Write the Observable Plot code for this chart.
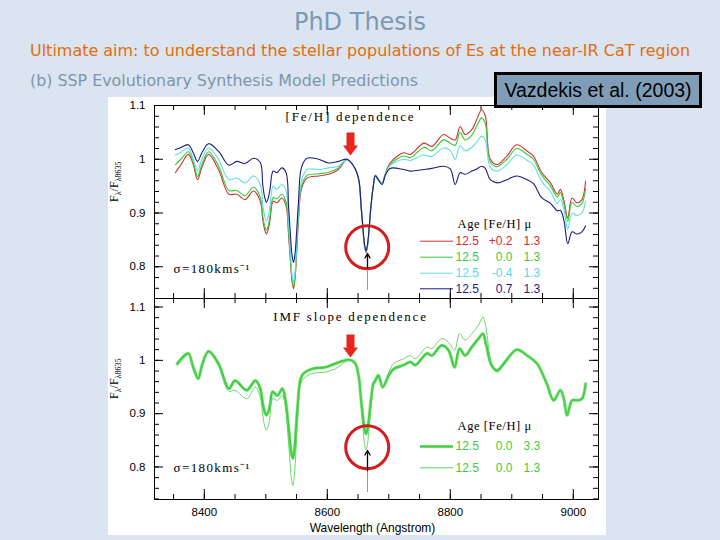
<!DOCTYPE html>
<html><head><meta charset="utf-8">
<script src="https://cdn.jsdelivr.net/npm/d3@7"></script>
<script src="https://cdn.jsdelivr.net/npm/@observablehq/plot@0.6"></script>
<style>
html,body{margin:0;padding:0;background:#dae5f1;}
#slide{position:relative;width:720px;height:540px;overflow:hidden;background:#dae5f1;}
#img{position:absolute;left:108px;top:97px;width:498px;height:438px;background:#fff;}
.panel{position:absolute;left:108px;}
#ref{position:absolute;left:494px;top:72px;width:202px;height:30px;background:#809db7;border:3px solid #000;
 font-family:"Liberation Sans",Arial,sans-serif;font-size:19.5px;line-height:30px;text-align:center;color:#000;white-space:nowrap;}
</style></head>
<body><div id="slide">
<svg id="hdr" width="720" height="97" style="position:absolute;left:0;top:0">
 <text x="360" y="30" text-anchor="middle" font-family="DejaVu Sans" font-size="24" fill="#7d98b3">PhD Thesis</text>
 <text x="30" y="56" textLength="660" lengthAdjust="spacingAndGlyphs" font-family="DejaVu Sans" font-size="16" fill="#e46c0a">Ultimate aim: to understand the stellar populations of Es at the near-IR CaT region</text>
 <text x="30" y="86" textLength="388" lengthAdjust="spacingAndGlyphs" font-family="DejaVu Sans" font-size="16" fill="#8094aa">(b) SSP Evolutionary Synthesis Model Predictions</text>
</svg>
<div id="img"></div>
<div id="p1" class="panel" style="top:97px"></div>
<div id="p2" class="panel" style="top:298px"></div>
<div id="ref">Vazdekis et al. (2003)</div>
</div>
<script>
// ---------------- data ----------------
const topWave = [8353,8362,8374,8382,8389,8396,8407,8423,8440,8453,8466,8480,8491,
 8495,8498,8501,8504,8507,
 8512,8518,8526,8533,
 8537,8540,8542.5,8545,8547.5,8550,8553,
 8558,8567,8586,8602,8618,8632,8643,8651,
 8655,8658,8660.5,8663,8665.5,8668,8671,8675,
 8678,8683,8689,8694,8702,
 8724,8735,8757,8770,8789,8800,8808,8816,8824,8835,8843,8851,8857,8865,8876,8892,8908,8925,8935,8949,8963,8974,8979,8985,8991,8998,9006,9014,9020];
const topFeP02 = [0.975,0.99,1.009,0.99,0.962,0.985,1.009,0.981,0.935,0.935,0.925,0.941,0.922,
 0.888,0.870,0.861,0.870,0.888,
 0.922,0.919,0.928,0.913,
 0.859,0.811,0.774,0.759,0.778,0.822,0.884,
 0.945,0.965,0.969,0.972,0.981,0.999,0.987,0.963,
 0.91,0.869,0.838,0.826,0.839,0.870,0.912,0.952,
 0.97,0.962,0.955,0.972,0.993,
 1.012,1.009,1.030,1.024,1.046,1.039,1.036,1.061,1.046,1.055,1.074,1.092,1.080,1.0,0.990,1.006,1.027,1.015,1.006,0.975,0.956,0.935,0.944,0.922,0.891,0.928,0.919,0.925,0.959];
const topFe00 = [0.99,1.0,1.014,0.995,0.968,0.99,1.014,0.988,0.942,0.942,0.932,0.948,0.929,
 0.895,0.877,0.868,0.877,0.895,
 0.929,0.926,0.935,0.92,
 0.865,0.816,0.778,0.762,0.781,0.827,0.889,
 0.95,0.97,0.973,0.976,0.984,1.0,0.987,0.963,
 0.912,0.871,0.840,0.828,0.841,0.871,0.913,0.952,
 0.97,0.962,0.955,0.971,0.99,
 1.006,1.003,1.022,1.016,1.036,1.03,1.026,1.05,1.036,1.045,1.062,1.077,1.066,0.995,0.986,1.0,1.02,1.009,1.0,0.97,0.95,0.93,0.938,0.916,0.885,0.92,0.912,0.918,0.945];
const topFeM04 = [1.008,1.013,1.021,1.0,0.978,1.0,1.021,1.0,0.962,0.965,0.956,0.969,0.953,
 0.916,0.895,0.885,0.894,0.915,
 0.95,0.944,0.953,0.941,
 0.882,0.829,0.788,0.771,0.790,0.838,0.899,
 0.96,0.981,0.981,0.984,0.987,0.999,0.987,0.963,
 0.912,0.871,0.841,0.829,0.841,0.871,0.913,0.952,
 0.969,0.962,0.954,0.970,0.988,
 1.0,0.998,1.008,1.005,1.021,1.016,1.0,1.025,1.016,1.022,1.032,1.043,1.035,0.985,0.978,0.99,1.008,0.998,0.99,0.958,0.94,0.918,0.925,0.905,0.87,0.9,0.895,0.9,0.922];
const topFeM07 = [1.018,1.022,1.027,1.012,0.996,1.012,1.029,1.015,0.989,0.996,0.992,1.002,0.994,
 0.953,0.930,0.920,0.928,0.946,
 0.978,0.975,0.984,0.975,
 0.912,0.860,0.823,0.808,0.824,0.863,0.918,
 0.985,1.002,1.0,0.993,0.996,1.0,0.987,0.963,
 0.913,0.872,0.842,0.83,0.842,0.872,0.913,0.952,
 0.969,0.962,0.953,0.969,0.983,
 0.981,0.978,0.981,0.983,0.987,0.982,0.953,0.975,0.972,0.978,0.982,0.987,0.983,0.962,0.956,0.962,0.969,0.962,0.955,0.928,0.918,0.904,0.905,0.885,0.843,0.865,0.861,0.865,0.876];

const botWave = [8356,8364,8374,8382,8390,8397,8407,8423,8440,8450,8469,8483,8491,
 8495,8498,8501,8504,8507,
 8511,8519,8527,8532,
 8536,8539,8541.5,8544,8546.5,8549,8552,
 8559,8575,8597,8613,8635,8645,8651,
 8655,8658,8660.5,8663,8665.5,8668,8671,8675,
 8678,8683,8690,8700,8708,
 8724,8735,8743,8762,8770,8786,8797,8807,8815,8824,8835,8846,8853,8858,8867,8876,8889,8908,8925,8941,8957,8968,8979,8984,8990,8998,9006,9014,9020];
const botMu33 = [0.994,1.005,1.013,0.987,0.966,0.994,1.017,0.994,0.947,0.962,0.944,0.962,0.947,
 0.92,0.904,0.897,0.903,0.917,
 0.941,0.934,0.947,0.925,
 0.887,0.853,0.827,0.816,0.832,0.869,0.918,
 0.972,0.984,0.987,0.994,1.001,0.995,0.97,
 0.925,0.893,0.872,0.862,0.872,0.893,0.925,0.957,
 0.962,0.972,0.95,0.972,0.984,
 0.991,0.997,0.991,1.013,1.009,1.028,1.019,0.987,1.022,1.009,1.025,1.041,1.05,1.031,0.991,0.981,0.997,1.02,1.009,0.994,0.956,0.925,0.944,0.931,0.897,0.925,0.925,0.928,0.956];
const botMu13 = [0.99,1.0,1.011,0.984,0.963,0.99,1.015,0.99,0.942,0.944,0.928,0.95,0.931,
 0.897,0.878,0.869,0.877,0.896,
 0.928,0.925,0.934,0.912,
 0.861,0.815,0.780,0.765,0.785,0.832,0.893,
 0.962,0.975,0.978,0.984,1.0,0.995,0.97,
 0.915,0.874,0.844,0.832,0.844,0.874,0.915,0.952,
 0.958,0.968,0.948,0.978,0.994,
 1.003,1.009,1.003,1.025,1.022,1.041,1.034,1.019,1.05,1.038,1.05,1.066,1.081,1.062,0.994,0.978,0.994,1.019,1.009,0.994,0.958,0.928,0.944,0.931,0.897,0.925,0.925,0.928,0.956];

// legend texts
const legTopAge = ["12.5","12.5","12.5","12.5"];
const legTopFeH = ["+0.2","0.0","-0.4","0.7"];
const legTopMu  = ["1.3","1.3","1.3","1.3"];
const legBotAge = ["12.5","12.5"];
const legBotFeH = ["0.0","0.0"];
const legBotMu  = ["3.3","1.3"];

// axis ticks
const xMajor = [8400, 8600, 8800, 9000];
const yMajor = [0.8, 0.9, 1, 1.1];

// ---------------- styling / layout ----------------
const topColors = ["#cc3333", "#33cc33", "#66dbe8", "#1c1c84"];
const topTextColors = ["#d42c2c", "#3ccd3c", "#5ad6e6", "#1c1c8c"];
const botColor = "#3fcf3f";
const xDomain = [8319, 9041];
const yDomTop = [0.741, 1.100];
const yDomBot = [0.739, 1.116];
const W = 498, ML = 46, MR = 8, fw = W - ML - MR;
const fhTop = 193, fhBot = 201;
const FL = 108 + ML; // page x of frame left
const xMinor = d3.range(8350, 9041, 50);
const yMinor = d3.range(37, 56).map(k => +(k * 0.02).toFixed(2));

function rows(wave, vals, s) { return wave.map((w, i) => ({w, v: vals[i], s})); }

function tickMarks(fh, yDom) {
  const ym = yMinor.filter(v => v > yDom[0] + 1e-6 && v < yDom[1] - 1e-6);
  return [
    Plot.ruleX(xMinor, {x: d => d, insetTop: fh - 5, stroke: "#000"}),
    Plot.ruleX(xMinor, {x: d => d, insetBottom: fh - 5, stroke: "#000"}),
    Plot.ruleX(xMajor, {x: d => d, insetTop: fh - 10, stroke: "#000"}),
    Plot.ruleX(xMajor, {x: d => d, insetBottom: fh - 10, stroke: "#000"}),
    Plot.ruleY(ym, {y: d => d, insetRight: fw - 5, stroke: "#000"}),
    Plot.ruleY(ym, {y: d => d, insetLeft: fw - 5, stroke: "#000"}),
    Plot.ruleY(yMajor, {y: d => d, insetRight: fw - 9, stroke: "#000"}),
    Plot.ruleY(yMajor, {y: d => d, insetLeft: fw - 9, stroke: "#000"}),
    Plot.frame({stroke: "#000", strokeWidth: 1})
  ];
}

// annotations: page-pixel layout converted into data coordinates
function annot(fh, yDom, pageTop, a) {
  const sx = d3.scaleLinear(xDomain, [FL, FL + fw]);
  const sy = d3.scaleLinear(yDom, [pageTop + fh, pageTop]);
  const X = px => sx.invert(px), Y = py => sy.invert(py);
  const arrowShape = [[-4,-23],[4,-23],[4,-10],[7.5,-10],[0,0],[-7.5,-10],[-4,-10]];
  const poly = arrowShape.map(([dx, dy]) => ({x: X(a.arrowX + dx), y: Y(a.arrowTip + dy)}));
  return [
    Plot.line(poly, {x: "x", y: "y", fill: "#e8261c", stroke: "none", curve: "linear"}),
    Plot.dot([0], {x: () => X(a.circX), y: () => Y(a.circY), r: 21.5, stroke: "#d41c1c", strokeWidth: 3, fill: "none"}),
    Plot.ruleX([0], {x: () => X(a.coreX), y1: () => Y(a.grayBot), y2: () => Y(a.blackBot), stroke: "#9a9a9a"}),
    Plot.arrow([0], {x1: () => X(a.coreX), x2: () => X(a.coreX), y1: () => Y(a.blackBot), y2: () => Y(a.blackTop),
      stroke: "#000", strokeWidth: 1.3, headLength: 6}),
    // legend
    Plot.text(["Age [Fe/H] μ"], {x: () => X(457), y: () => Y(a.legHead), textAnchor: "start",
      fontFamily: "Liberation Serif", fontSize: 12.5, fill: "#000"}),
    Plot.ruleY(a.legRows, {y: (d, i) => Y(a.legRows[i]), x1: () => X(420), x2: () => X(453),
      stroke: (d, i) => a.legLineColors[i], strokeWidth: (d, i) => a.legLineWidths[i]}),
    Plot.text(a.legAge, {x: () => X(455), y: (d, i) => Y(a.legRows[i]), text: d => d, textAnchor: "start",
      fill: (d, i) => a.legTextColors[i], fontFamily: "Liberation Sans", fontSize: 12}),
    Plot.text(a.legFeH, {x: () => X(512), y: (d, i) => Y(a.legRows[i]), text: d => d, textAnchor: "end",
      fill: (d, i) => a.legTextColors[i], fontFamily: "Liberation Sans", fontSize: 12}),
    Plot.text(a.legMu, {x: () => X(523), y: (d, i) => Y(a.legRows[i]), text: d => d, textAnchor: "start",
      fill: (d, i) => a.legTextColors[i], fontFamily: "Liberation Sans", fontSize: 12})
  ];
}

function commonText(title, titleDy, sigmaDy) {
  return [
    Plot.text([title], {text: d => d, frameAnchor: "top", lineAnchor: "middle", dx: -26, dy: titleDy,
      fontFamily: "Liberation Serif", fontSize: 13, fill: "#000"}),
    Plot.text(["σ=180kms⁻¹"], {text: d => d, frameAnchor: "bottom-left", textAnchor: "start", lineAnchor: "middle",
      dx: 19, dy: sigmaDy, fontFamily: "Liberation Serif", fontSize: 13, fill: "#000"}),
    Plot.text(["Fλ/Fλ8635"], {text: d => d, frameAnchor: "left", dx: -40, rotate: -90,
      fontFamily: "Liberation Serif", fontSize: 12, fill: "#000"})
  ];
}

const styleObj = {background: "transparent", fontFamily: "Liberation Sans", fontSize: "11.5px", color: "#000", overflow: "visible"};

// ---------------- top panel ----------------
const p1 = Plot.plot({
  width: W, height: 8 + fhTop, marginLeft: ML, marginRight: MR, marginTop: 8, marginBottom: 0,
  style: styleObj,
  x: {domain: xDomain, axis: null},
  y: {domain: yDomTop, ticks: yMajor, tickSize: 0, tickPadding: 9, tickFormat: d => String(d), label: null},
  marks: [
    ...tickMarks(fhTop, yDomTop),
    Plot.line(rows(topWave, topFeP02, "+0.2"), {x: "w", y: "v", stroke: topColors[0], strokeWidth: 1.1, curve: "catmull-rom"}),
    Plot.line(rows(topWave, topFe00, "0.0"), {x: "w", y: "v", stroke: topColors[1], strokeWidth: 1.1, curve: "catmull-rom"}),
    Plot.line(rows(topWave, topFeM04, "-0.4"), {x: "w", y: "v", stroke: topColors[2], strokeWidth: 1.1, curve: "catmull-rom"}),
    Plot.line(rows(topWave, topFeM07, "-0.7"), {x: "w", y: "v", stroke: topColors[3], strokeWidth: 1.1, curve: "catmull-rom"}),
    ...commonText("[Fe/H] dependence", 11.7, -30),
    ...annot(fhTop, yDomTop, 105, {
      arrowX: 350, arrowTip: 155, circX: 366.7, circY: 246.7, coreX: 367,
      blackTop: 253, blackBot: 268, grayBot: 290,
      legHead: 223, legRows: [240.7, 256.7, 272.7, 288.3],
      legLineColors: topColors, legLineWidths: [1, 1, 1, 1], legTextColors: topTextColors,
      legAge: legTopAge, legFeH: legTopFeH, legMu: legTopMu
    })
  ]
});
document.getElementById("p1").appendChild(p1);

// ---------------- bottom panel ----------------
const p2 = Plot.plot({
  width: W, height: fhBot + 36, marginLeft: ML, marginRight: MR, marginTop: 0, marginBottom: 36,
  style: styleObj,
  x: {domain: xDomain, ticks: xMajor, tickSize: 0, tickPadding: 8, tickFormat: d => String(d), label: null},
  y: {domain: yDomBot, ticks: yMajor, tickSize: 0, tickPadding: 9, tickFormat: d => String(d), label: null},
  marks: [
    ...tickMarks(fhBot, yDomBot),
    Plot.line(rows(botWave, botMu33, "3.3"), {x: "w", y: "v", stroke: "#a8eba8", strokeWidth: 3.4, curve: "catmull-rom"}),
    Plot.line(rows(botWave, botMu33, "3.3"), {x: "w", y: "v", stroke: botColor, strokeWidth: 2.1, curve: "catmull-rom"}),
    Plot.line(rows(botWave, botMu13, "1.3"), {x: "w", y: "v", stroke: "#5ccf5c", strokeWidth: 0.9, curve: "catmull-rom"}),
    ...commonText("IMF slope dependence", 18.7, -32),
    Plot.text(["Wavelength (Angstrom)"], {text: d => d, frameAnchor: "bottom", lineAnchor: "middle", dx: -4, dy: 29,
      fontFamily: "Liberation Sans", fontSize: 12, fill: "#000"}),
    ...annot(fhBot, yDomBot, 298, {
      arrowX: 350, arrowTip: 357, circX: 366.7, circY: 446.7, coreX: 367,
      blackTop: 450, blackBot: 470, grayBot: 492,
      legHead: 425, legRows: [446, 467.3],
      legLineColors: [botColor, "#5ccf5c"], legLineWidths: [2.6, 1], legTextColors: ["#3ccd3c", "#3ccd3c"],
      legAge: legBotAge, legFeH: legBotFeH, legMu: legBotMu
    })
  ]
});
document.getElementById("p2").appendChild(p2);

// typographic touches: subscripts and letter spacing
for (const svg of [p1, p2]) {
  d3.select(svg).selectAll("text").each(function () {
    const t = d3.select(this);
    const s = this.textContent;
    if (s === "Fλ/Fλ8635") {
      t.text(null);
      t.append("tspan").text("F");
      t.append("tspan").attr("font-size", "8px").attr("dy", "3").text("λ");
      t.append("tspan").attr("dy", "-3").text("/F");
      t.append("tspan").attr("font-size", "8px").attr("dy", "3").text("λ8635");
    } else if (s === "[Fe/H] dependence" || s === "IMF slope dependence") {
      t.style("letter-spacing", "1.8px");
    } else if (s === "σ=180kms⁻¹") {
      t.style("letter-spacing", "1.4px");
    } else if (s === "Age [Fe/H] μ") {
      t.style("letter-spacing", "0.6px");
    }
  });
}
</script>
</body></html>
